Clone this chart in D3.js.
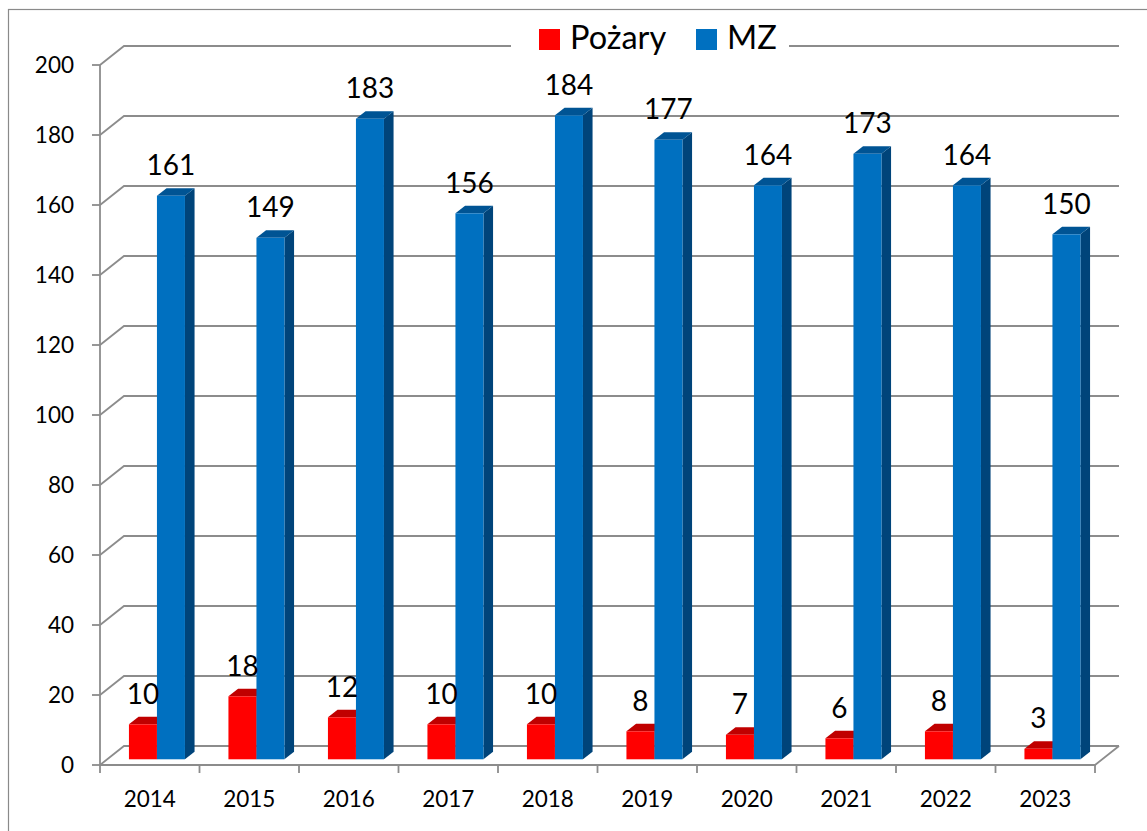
<!DOCTYPE html>
<html>
<head>
<meta charset="utf-8">
<script src="https://cdn.jsdelivr.net/npm/d3@7"></script>
<style>
  body { margin: 0; background: #fff; }
  svg { display: block; }
  text { font-family: Lato, "Liberation Sans", sans-serif; fill: #000; }
</style>
</head>
<body>
<div id="chart"></div>
<script>
// chart values
var years = ["2014", "2015", "2016", "2017", "2018", "2019", "2020", "2021", "2022", "2023"];
var series = ["Pożary", "MZ"];
var pozary = [10, 18, 12, 10, 10, 8, 7, 6, 8, 3];
var mz = [161, 149, 183, 156, 184, 177, 164, 173, 164, 150];
var yTicks = [0, 20, 40, 60, 80, 100, 120, 140, 160, 180, 200];

const width = 1147, height = 831;
const colors = {
    "Pożary": {front: "#ff0000", top: "#c00000", side: "#a00000"},
    "MZ": {front: "#0070c0", top: "#005494", side: "#00447a"}
};

// depth of the 3d box (offset of back wall from front plane)
const depth = {dx: 24, dy: -19};
const barT0 = 0.3, barT1 = 0.7;   // where bars sit inside the depth

var svg = d3.select("#chart").append("svg")
    .attr("width", width)
    .attr("height", height);

// outer chart border
svg.append("rect")
    .attr("x", 8.5).attr("y", 9.5)
    .attr("width", width + 20).attr("height", height + 20)
    .attr("fill", "none")
    .attr("stroke", "#8a8a8a")
    .attr("stroke-width", 1.2);

var x_scale = d3.scaleBand()
    .domain(years)
    .range([100, 1095])
    .paddingInner(0.437)
    .paddingOuter(0.2185);

var step = x_scale.step();

var s_scale = d3.scaleBand()
    .domain(series)
    .range([0, x_scale.bandwidth()]);

var y_scale = d3.scaleLinear()
    .domain([0, 200])
    .range([765, 65]);

const x0 = 100, x1 = 1095;
var grid = svg.append("g").attr("class", "grid")
    .attr("fill", "none")
    .attr("stroke", "#8c8c8c")
    .attr("stroke-width", 1.8);

// back wall gridlines and left wall diagonals
yTicks.forEach(function (v) {
    var y = y_scale(v);
    grid.append("path")
        .attr("d", "M" + x0 + "," + y + "L" + (x0 + depth.dx) + "," + (y + depth.dy) +
            "L" + (x1 + depth.dx) + "," + (y + depth.dy));
});

// floor front edge and right diagonal
grid.append("path")
    .attr("d", "M" + x0 + "," + y_scale(0) + "L" + x1 + "," + y_scale(0) +
        "L" + (x1 + depth.dx) + "," + (y_scale(0) + depth.dy));

// y axis line + ticks
grid.append("path")
    .attr("d", "M" + x0 + "," + y_scale(200) + "L" + x0 + "," + y_scale(0));
yTicks.forEach(function (v) {
    grid.append("path")
        .attr("d", "M" + (x0 - 8) + "," + y_scale(v) + "L" + x0 + "," + y_scale(v));
});

// x ticks at category boundaries
d3.range(years.length + 1).forEach(function (i) {
    var x = x0 + i * step;
    grid.append("path")
        .attr("d", "M" + x + "," + y_scale(0) + "L" + x + "," + (y_scale(0) + 8));
});

// y tick labels
svg.append("g").selectAll("text")
    .data(yTicks)
    .enter().append("text")
    .attr("x", 74)
    .attr("y", (d) => y_scale(d))
    .attr("dy", "0.36em")
    .attr("text-anchor", "end")
    .attr("font-size", 22.5)
    .text((d) => d);

// x labels
svg.append("g").selectAll("text")
    .data(years)
    .enter().append("text")
    .attr("x", (d) => x0 + years.indexOf(d) * step + step / 2)
    .attr("y", 807)
    .attr("text-anchor", "middle")
    .attr("font-size", 22.5)
    .text((d) => d);

// bars
var rows = [];
years.forEach(function (yr, i) {
    rows.push({year: yr, key: "Pożary", value: pozary[i]});
    rows.push({year: yr, key: "MZ", value: mz[i]});
});

var bars = svg.append("g").attr("class", "bars");
var ox0 = depth.dx * barT0, oy0 = depth.dy * barT0;
var ox1 = depth.dx * barT1, oy1 = depth.dy * barT1;

rows.forEach(function (d) {
    var c = colors[d.key];
    var bx = x_scale(d.year) + s_scale(d.key) + ox0;
    var bw = s_scale.bandwidth();
    var yb = y_scale(0) + oy0;
    var yt = y_scale(d.value) + oy0;
    var ddx = ox1 - ox0, ddy = oy1 - oy0;
    var g = bars.append("g");
    // side face
    g.append("path")
        .attr("fill", c.side)
        .attr("d", "M" + (bx + bw) + "," + yb + "L" + (bx + bw + ddx) + "," + (yb + ddy) +
            "L" + (bx + bw + ddx) + "," + (yt + ddy) + "L" + (bx + bw) + "," + yt + "Z");
    // top face
    g.append("path")
        .attr("fill", c.top)
        .attr("d", "M" + bx + "," + yt + "L" + (bx + ddx) + "," + (yt + ddy) +
            "L" + (bx + bw + ddx) + "," + (yt + ddy) + "L" + (bx + bw) + "," + yt + "Z");
    // front face
    g.append("rect")
        .attr("fill", c.front)
        .attr("x", bx).attr("y", yt)
        .attr("width", bw).attr("height", yb - yt);
    // value label
    svg.append("text")
        .attr("class", "label")
        .attr("x", bx + bw / 2)
        .attr("y", yt + ddy - 13)
        .attr("text-anchor", "middle")
        .attr("font-size", 28)
        .text(d.value);
});

// legend
var legend = svg.append("g");
legend.append("rect")
    .attr("x", 511).attr("y", 30)
    .attr("width", 278).attr("height", 30)
    .attr("fill", "#fff");
var lx = [539, 696];
series.forEach(function (s, i) {
    legend.append("rect")
        .attr("x", lx[i]).attr("y", 29)
        .attr("width", 21).attr("height", 21)
        .attr("fill", colors[s].front);
    legend.append("text")
        .attr("x", lx[i] + 31).attr("y", 49)
        .attr("font-size", 32.5)
        .text(s);
});
</script>
</body>
</html>
